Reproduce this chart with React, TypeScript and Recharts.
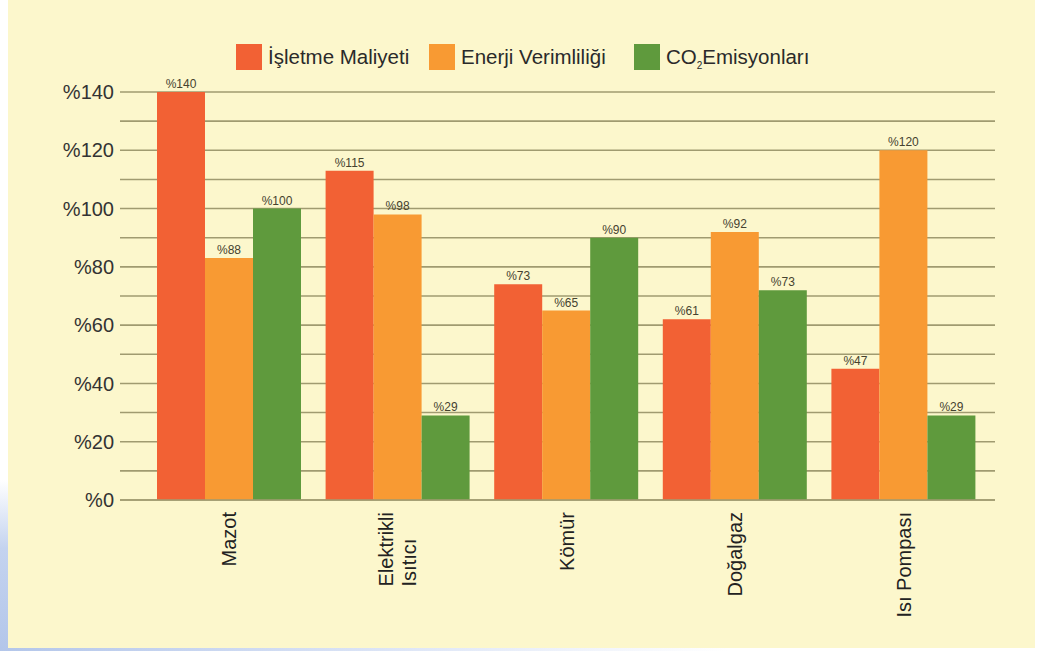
import { Bar, BarChart, CartesianGrid, LabelList, XAxis, YAxis } from 'recharts'

const categories = ['Mazot', 'Elektrikli\nIsıtıcı', 'Kömür', 'Doğalgaz', 'Isı Pompası']
const isletmeMaliyeti = [140, 113, 74, 62, 45]
const enerjiVerimliligi = [83, 98, 65, 92, 120]
const co2Emisyonlari = [100, 29, 90, 72, 29]
const isletmeLabels = ['%140', '%115', '%73', '%61', '%47']
const enerjiLabels = ['%88', '%98', '%65', '%92', '%120']
const co2Labels = ['%100', '%29', '%90', '%73', '%29']
const yTicks = [0, 10, 20, 30, 40, 50, 60, 70, 80, 90, 100, 110, 120, 130, 140]

const COLORS = { isletme: '#f26134', enerji: '#f89a33', co2: '#5f9a3d' }
const GRID = '#a09b70'
const BG = '#fcf7cc'
const FONT = '"Liberation Sans", Arial, Helvetica, sans-serif'

const chartData = categories.map((name, i) => ({
  name,
  isletme: isletmeMaliyeti[i],
  enerji: enerjiVerimliligi[i],
  co2: co2Emisyonlari[i],
}))

let ctx: CanvasRenderingContext2D | null = null
function textWidth(s: string, size: number) {
  if (!ctx) ctx = document.createElement('canvas').getContext('2d')
  if (!ctx) return s.length * size * 0.5
  ctx.font = `${size}px ${FONT}`
  return ctx.measureText(s).width
}

function CategoryTick({ x, y, payload }: any) {
  const lines = String(payload.value).split('\n')
  const size = 20
  const maxW = Math.max(...lines.map((l) => textWidth(l, size)))
  const lineGap = 23
  return (
    <g transform={`translate(${x},${y})`}>
      <text transform="rotate(-90)" fontSize={size} fontFamily={FONT} fill="#222">
        {lines.map((l, i) => (
          <tspan key={i} x={-maxW} y={(i - (lines.length - 1) / 2) * lineGap + size * 0.35}>
            {l}
          </tspan>
        ))}
      </text>
    </g>
  )
}

const valueLabel = (texts: string[]) => (props: any) => {
  const { x, y, width, index } = props
  return (
    <text
      x={x + width / 2}
      y={y - 4}
      textAnchor="middle"
      fontSize={12}
      fontFamily={FONT}
      fill="#45422f"
    >
      {texts[index]}
    </text>
  )
}

function LegendRow() {
  const items = [
    { left: 236, color: COLORS.isletme, label: <>İşletme Maliyeti</> },
    { left: 429, color: COLORS.enerji, label: <>Enerji Verimliliği</> },
    {
      left: 634,
      color: COLORS.co2,
      label: (
        <>
          CO<sub style={{ fontSize: 10, verticalAlign: 'sub', lineHeight: 0 }}>2</sub>Emisyonları
        </>
      ),
    },
  ]
  return (
    <>
      {items.map((it, i) => (
        <div
          key={i}
          style={{
            position: 'absolute',
            left: it.left,
            top: 44,
            display: 'flex',
            alignItems: 'center',
            gap: 6,
            fontFamily: FONT,
            fontSize: 20.5,
            color: '#2a2a2a',
            whiteSpace: 'nowrap',
          }}
        >
          <div style={{ width: 26, height: 26, background: it.color }} />
          <span>{it.label}</span>
        </div>
      ))}
    </>
  )
}

export default function App() {
  return (
    <div style={{ position: 'absolute', left: 0, top: 0, width: 1040, height: 651, background: '#fff', overflow: 'hidden' }}>
      <div
        style={{
          position: 'absolute',
          left: 0,
          top: 480,
          width: 12,
          height: 171,
          background: 'linear-gradient(to bottom, #ffffff, #c4d3ef 40%, #b3c6ea)',
        }}
      />
      <div
        style={{
          position: 'absolute',
          left: 0,
          top: 646,
          width: 1040,
          height: 5,
          background: 'linear-gradient(to right, #b3c6ea, #dfe7f7 40%, #ffffff 70%)',
        }}
      />
      <div style={{ position: 'absolute', left: 8, top: 0, width: 1027, height: 648, background: BG }} />
      <div style={{ position: 'absolute', left: 0, top: 0 }}>
        <BarChart
          width={1040}
          height={651}
          data={chartData}
          margin={{ top: 92, right: 45, bottom: 121, left: 0 }}
          barGap={0}
          barSize={48}
        >
          <CartesianGrid horizontal vertical={false} stroke={GRID} strokeWidth={1.6} />
          <XAxis
            dataKey="name"
            interval={0}
            height={30}
            tickLine={false}
            tickSize={0}
            tickMargin={12}
            axisLine={{ stroke: GRID, strokeWidth: 1.6 }}
            padding={{ left: 25, right: 7 }}
            tick={<CategoryTick />}
          />
          <YAxis
            width={120}
            domain={[0, 140]}
            ticks={yTicks}
            interval={0}
            axisLine={false}
            tickLine={false}
            tickSize={0}
            tickMargin={6}
            tickFormatter={(v: number) => (v % 20 === 0 ? `%${v}` : '')}
            tick={{ fontSize: 20, fontFamily: FONT, fill: '#333' }}
          />
          <Bar dataKey="isletme" fill={COLORS.isletme} isAnimationActive={false}>
            <LabelList dataKey="isletme" content={valueLabel(isletmeLabels)} />
          </Bar>
          <Bar dataKey="enerji" fill={COLORS.enerji} isAnimationActive={false}>
            <LabelList dataKey="enerji" content={valueLabel(enerjiLabels)} />
          </Bar>
          <Bar dataKey="co2" fill={COLORS.co2} isAnimationActive={false}>
            <LabelList dataKey="co2" content={valueLabel(co2Labels)} />
          </Bar>
        </BarChart>
      </div>
      <LegendRow />
    </div>
  )
}
